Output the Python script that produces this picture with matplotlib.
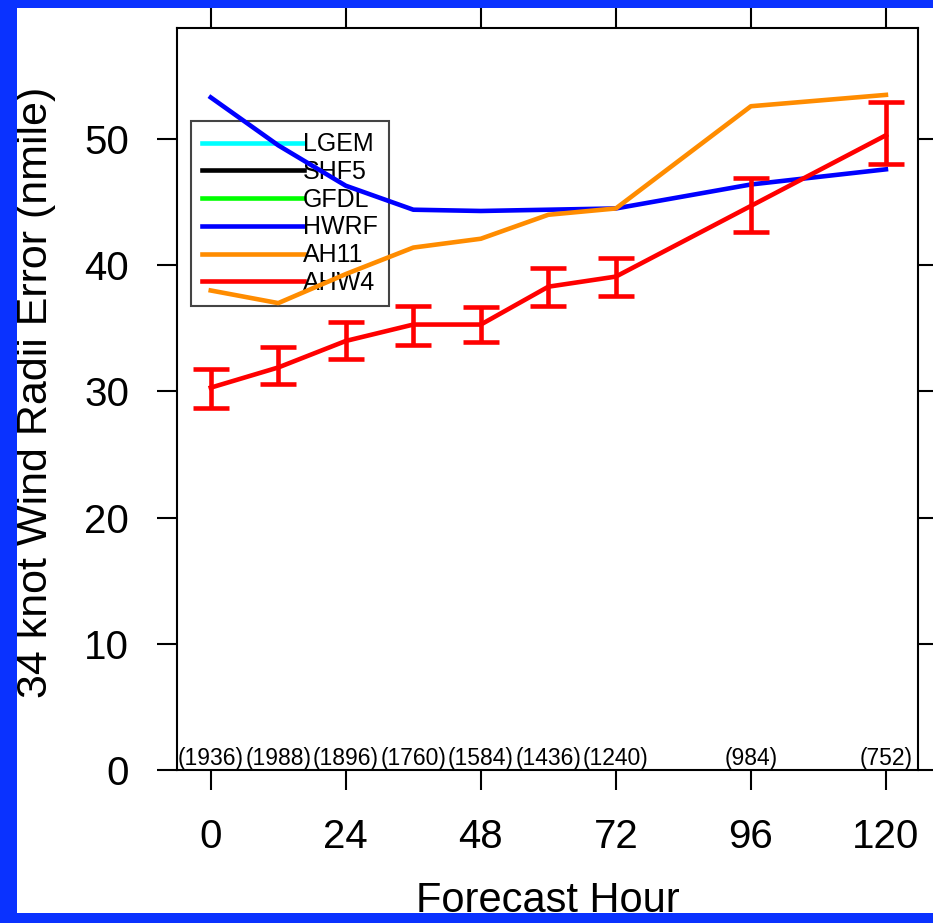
import matplotlib
matplotlib.use('Agg')
import matplotlib.pyplot as plt
from matplotlib.patches import Rectangle

plt.rcParams['font.family'] = ['Liberation Sans', 'DejaVu Sans']

# forecast hours and sample counts
hours = [0, 12, 24, 36, 48, 60, 72, 96, 120]
counts = ['(1936)', '(1988)', '(1896)', '(1760)', '(1584)', '(1436)', '(1240)', '(984)', '(752)']

# 34 kt wind radii errors (nmile)
hwrf = [53.3, 49.5, 46.3, 44.4, 44.3, 44.4, 44.5, 46.4, 47.6]
ah11 = [38.0, 37.0, 39.3, 41.4, 42.1, 44.0, 44.5, 52.6, 53.5]
ahw4 = [30.3, 31.9, 34.0, 35.3, 35.3, 38.3, 39.1, 44.7, 50.3]
ahw4_lo = [28.65, 30.6, 32.6, 33.7, 33.9, 36.8, 37.6, 42.6, 48.0]
ahw4_hi = [31.8, 33.5, 35.5, 36.8, 36.7, 39.8, 40.6, 46.9, 52.9]

xticks = [0, 24, 48, 72, 96, 120]
yticks = [0, 10, 20, 30, 40, 50]

fig = plt.figure(figsize=(9.33, 9.23), dpi=100, facecolor='white')
border = '#0a32ff'
W, H = 933.0, 923.0
# blue frame: left, bottom, top
for (x0, y0, w, h) in [(0, 0, 17, 923), (0, 0, 933, 10), (0, 915, 933, 8)]:
    fig.patches.append(Rectangle((x0 / W, y0 / H), w / W, h / H, transform=fig.transFigure,
                                 facecolor=border, edgecolor='none', zorder=10))

ax = fig.add_axes([177 / W, 1 - 770 / H, (918 - 177) / W, (770 - 28) / H])

# legend-only models (no data in this panel)
ax.plot([], [], color='#00ffff', lw=3.3, label='LGEM')
ax.plot([], [], color='black', lw=3.3, label='SHF5')
ax.plot([], [], color='#00ff00', lw=3.3, label='GFDL')
ax.plot(hours, hwrf, color='#0000ff', lw=3.3, label='HWRF', zorder=3)
ax.plot(hours, ah11, color='#ff8c00', lw=3.3, label='AH11', zorder=3)
ax.plot(hours, ahw4, color='#ff0000', lw=3.3, label='AHW4', zorder=4)

err_lo = [m - l for m, l in zip(ahw4, ahw4_lo)]
err_hi = [h - m for m, h in zip(ahw4, ahw4_hi)]
ax.errorbar(hours, ahw4, yerr=[err_lo, err_hi], fmt='none', ecolor='#ff0000',
            elinewidth=3.3, capsize=13.3, capthick=3.3, zorder=4)

for h, c in zip(hours, counts):
    ax.text(h, 0.9, c, fontsize=16.5, ha='center', va='center', zorder=5)

ax.set_xlim(-6, 125.7)
ax.set_ylim(0, 58.8)
ax.set_xticks(xticks)
ax.set_yticks(yticks)
ax.tick_params(direction='out', length=14.4, width=1.5, labelsize=29,
               top=True, right=True)
ax.tick_params(axis='x', pad=20)
ax.tick_params(axis='y', pad=20)
for s in ax.spines.values():
    s.set_linewidth(1.5)

ax.set_xlabel('Forecast Hour', fontsize=30)
ax.xaxis.set_label_coords(0.5, (770 - 912) / 742.0)
ax.xaxis.label.set_va('baseline')
ax.set_ylabel('34 knot Wind Radii Error (nmile)', fontsize=31)
ax.yaxis.set_label_coords((36 - 177) / 741.0, (770 - 392) / 742.0)
ax.yaxis.label.set_va('center')

leg = ax.legend(loc='upper left', bbox_to_anchor=((191 - 177) / 741.0, (770 - 121) / 742.0),
                borderaxespad=0, fontsize=18, handlelength=4.05, handletextpad=-0.02,
                labelspacing=0.15, borderpad=0.45, fancybox=False, framealpha=1,
                edgecolor='#444444')
leg.get_frame().set_linewidth(1.5)
leg.set_zorder(2)

fig.savefig('out.png', dpi=100, facecolor=fig.get_facecolor())
